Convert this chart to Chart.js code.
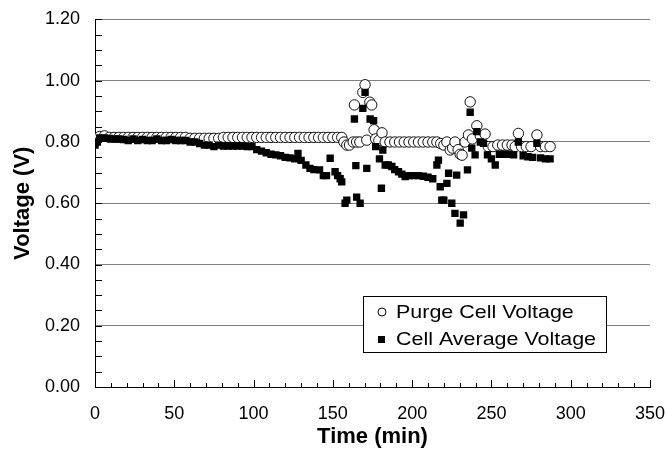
<!DOCTYPE html>
<html>
<head>
<meta charset="utf-8">
<script src="https://cdn.jsdelivr.net/npm/chart.js@4.4.1/dist/chart.umd.min.js"></script>
<style>
  html, body { margin: 0; padding: 0; background: #fff; }
  #wrap { width: 667px; height: 454px; position: relative; }
</style>
</head>
<body>
<div id="wrap"><canvas id="voltChart" width="667" height="454"></canvas></div>
<script>
// ----------------------------------------------------
// Data
// ----------------------------------------------------
const purgeTime = [0,3,6,9,12,15,18,21,24,27,30,33,36,39,42,45,48,51,54,57,60,63,66,69,72,75,78,81,84,87,90,93,96,99,102,105,108,111,114,117,120,123,126,129,132,135,138,141,144,147,150,
  153,155.6,157,158.8,160.5,162.8,163.6,165,167,168.9,
  170.3,171.4,173.3,174.5,176,177,179,181,183,186,
  189,192,195,198,201,204,207,210,213,215.6,
  218,220,221.9,224,225.5,227,229,230.3,231.5,233.4,
  235.5,236.6,238,240.8,243,246,248,251,254,257,
  260,263,265,267,269,272,275,278.7,281,284,287];
const purgeVolt = [0.80,0.818,0.82,0.815,0.815,0.815,0.815,0.815,0.815,0.815,0.815,0.815,0.815,0.815,0.815,0.815,0.815,0.815,0.815,0.815,0.812,0.812,0.812,0.812,0.812,0.812,0.812,0.815,0.815,0.815,0.815,0.815,0.815,0.815,0.815,0.815,0.815,0.815,0.815,0.815,0.815,0.815,0.815,0.815,0.815,0.815,0.815,0.815,0.815,0.815,0.815,
  0.815,0.815,0.80,0.79,0.79,0.80,0.921,0.80,0.80,0.962,
  0.987,0.806,0.93,0.921,0.84,0.81,0.805,0.83,0.80,0.80,
  0.80,0.80,0.80,0.80,0.80,0.80,0.80,0.80,0.80,0.80,
  0.795,0.79,0.80,0.774,0.78,0.80,0.775,0.76,0.757,0.80,
  0.823,0.931,0.81,0.853,0.82,0.826,0.785,0.785,0.79,0.79,
  0.79,0.79,0.785,0.828,0.785,0.785,0.785,0.823,0.785,0.785,0.785];

const avgTime = [0,1.5,3,6,9,12,15,18,21,24,27,30,33,36,39,42,45,48,51,54,57,60,63,66,69,72,75,78,81,84,87,90,93,96,99,
  102,105,108,111,114,117,120,123,126,128,130,133,135.6,138,141.6,144,146,148.3,151.4,153,154.6,155.6,157.7,158.8,
  163.6,164.5,165,167.2,168.9,170.3,171.4,173.5,175.7,177,179.4,180.6,181.5,183,185,187.2,189,191.4,193.5,195.6,
  198,201,204,207,210,213,215.6,216.6,217.7,218.7,220,221.9,223,225,227,228.1,230.3,232.4,234.9,
  236.6,237.6,239.7,240.8,243,245,247.5,250,252.4,255,258,261,264,267,270,273,276,278.7,281,284,287];
const avgVolt = [0.79,0.80,0.813,0.813,0.812,0.81,0.81,0.808,0.805,0.81,0.805,0.808,0.805,0.805,0.81,0.805,0.805,0.808,0.805,0.805,0.805,0.80,0.80,0.795,0.79,0.79,0.785,0.79,0.787,0.787,0.787,0.787,0.787,0.785,0.785,
  0.775,0.77,0.765,0.76,0.758,0.755,0.75,0.748,0.745,0.763,0.74,0.725,0.714,0.71,0.709,0.69,0.69,0.747,0.703,0.69,0.68,0.67,0.60,0.61,
  0.875,0.723,0.62,0.60,0.91,0.962,0.714,0.875,0.87,0.785,0.745,0.649,0.774,0.725,0.725,0.72,0.71,0.703,0.695,0.687,
  0.69,0.69,0.69,0.688,0.685,0.68,0.725,0.741,0.654,0.61,0.61,0.665,0.698,0.60,0.567,0.692,0.535,0.562,0.709,
  0.897,0.78,0.758,0.834,0.80,0.796,0.758,0.745,0.725,0.76,0.76,0.76,0.758,0.80,0.755,0.752,0.75,0.796,0.748,0.745,0.745];

const seriesNames = ["Purge Cell Voltage", "Cell Average Voltage"];
const xTicks = [0, 50, 100, 150, 200, 250, 300, 350];
const yTicks = [0, 0.2, 0.4, 0.6, 0.8, 1.0, 1.2];

const FONT = "'Liberation Sans', Arial, sans-serif";

// ----------------------------------------------------
// Inside tick marks (minor every 10 min / 0.05 V)
// ----------------------------------------------------
const insideTicks = {
  id: "insideTicks",
  beforeDatasetsDraw(chart) {
    const { ctx, scales: { x, y }, chartArea: a } = chart;
    ctx.save();
    ctx.strokeStyle = "#000";
    ctx.lineWidth = 1;
    ctx.beginPath();
    for (let t = 10; t <= 350; t += 10) {
      const px = Math.round(x.getPixelForValue(t)) + 0.5;
      const len = t % 50 === 0 ? 7 : 4;
      ctx.moveTo(px, a.bottom);
      ctx.lineTo(px, a.bottom - len);
    }
    for (let k = 1; k <= 24; k++) {
      const py = Math.round(y.getPixelForValue(k * 0.05)) + 0.5;
      ctx.moveTo(a.left, py);
      ctx.lineTo(a.left + 7, py);
    }
    ctx.stroke();
    ctx.restore();
  }
};

// ----------------------------------------------------
// Boxed legend inside the plot
// ----------------------------------------------------
const boxLegend = {
  id: "boxLegend",
  afterDatasetsDraw(chart) {
    const { ctx } = chart;
    const bx = 363.5, by = 296.5, bw = 243, bh = 56;
    ctx.save();
    ctx.fillStyle = "#fff";
    ctx.strokeStyle = "#000";
    ctx.lineWidth = 1;
    ctx.fillRect(bx, by, bw, bh);
    ctx.strokeRect(bx, by, bw, bh);

    // circle marker
    ctx.beginPath();
    ctx.arc(382, 312, 4, 0, Math.PI * 2);
    ctx.fillStyle = "#fff";
    ctx.fill();
    ctx.stroke();

    // square marker
    ctx.fillStyle = "#000";
    ctx.fillRect(378, 336, 7, 7);

    // labels, a little wider than plain Arial like the original
    ctx.font = "18.5px " + FONT;
    ctx.textBaseline = "middle";
    ctx.textAlign = "left";
    ctx.translate(396, 0);
    ctx.scale(1.16, 1);
    ctx.fillText(seriesNames[0], 0, 313);
    ctx.fillText(seriesNames[1], 0, 340);
    ctx.restore();
  }
};

// ----------------------------------------------------
// Chart
// ----------------------------------------------------
const ctx = document.getElementById("voltChart").getContext("2d");

new Chart(ctx, {
  type: "scatter",
  data: {
    datasets: [
      {
        label: seriesNames[1],
        data: avgTime.map((t, i) => ({ x: t, y: avgVolt[i] })),
        pointStyle: "rect",
        pointRadius: 5.2,
        backgroundColor: "#000",
        borderColor: "#000",
        borderWidth: 0
      },
      {
        label: seriesNames[0],
        data: purgeTime.map((t, i) => ({ x: t, y: purgeVolt[i] })),
        pointStyle: "circle",
        pointRadius: 5.2,
        backgroundColor: "#fff",
        borderColor: "#111",
        borderWidth: 1
      }
    ]
  },
  options: {
    responsive: false,
    animation: false,
    events: [],
    layout: { padding: { top: 19.5, right: 17, left: 0, bottom: 0 } },
    plugins: { legend: { display: false }, tooltip: { enabled: false } },
    scales: {
      x: {
        type: "linear",
        min: 0,
        max: 350,
        afterBuildTicks: s => { s.ticks = xTicks.map(v => ({ value: v })); },
        afterFit: s => {
          s.height = 67;
          s.paddingLeft = 0;
          s.paddingRight = 0;
        },
        grid: { display: false, drawTicks: false },
        border: { display: true, color: "#000", width: 1 },
        ticks: {
          color: "#000",
          padding: 16,
          font: { family: FONT, size: 18 },
          maxRotation: 0
        },
        title: {
          display: true,
          text: "Time (min)",
          color: "#000",
          font: { family: FONT, size: 22, weight: "bold" },
          padding: { top: 0, bottom: 4 }
        }
      },
      y: {
        type: "linear",
        min: 0,
        max: 1.2,
        afterBuildTicks: s => { s.ticks = yTicks.map(v => ({ value: v })); },
        afterFit: s => {
          s.width = 95;
          s.paddingTop = 0;
          s.paddingBottom = 0;
        },
        grid: {
          drawTicks: false,
          color: ctx => (ctx.tick && ctx.tick.value === 0 ? "rgba(0,0,0,0)" : "#808080"),
          lineWidth: 1
        },
        border: { display: true, color: "#000", width: 1 },
        ticks: {
          color: "#000",
          padding: 15,
          font: { family: FONT, size: 18 },
          callback: v => v.toFixed(2)
        },
        title: {
          display: true,
          text: "Voltage (V)",
          color: "#000",
          font: { family: FONT, size: 22, weight: "bold" },
          padding: { top: 10, bottom: 0 }
        }
      }
    }
  },
  plugins: [insideTicks, boxLegend]
});
</script>
</body>
</html>
